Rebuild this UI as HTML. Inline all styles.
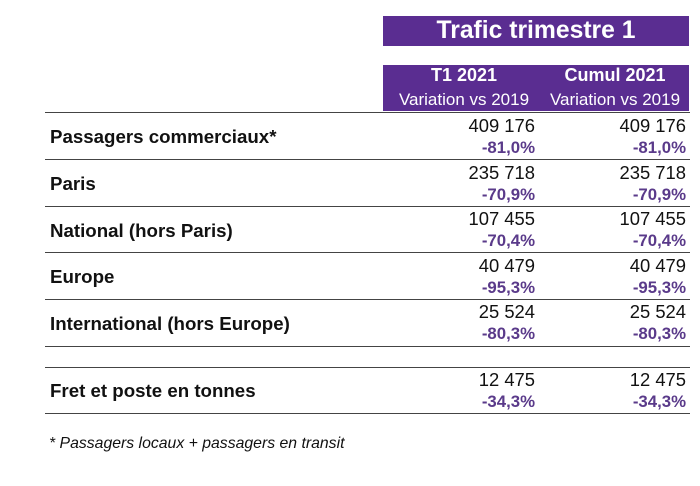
<!DOCTYPE html>
<html><head><style>
body{margin:0;width:700px;height:486px;background:#fff;font-family:"Liberation Sans",Arial,sans-serif;position:relative;overflow:hidden}
.a{position:absolute}
.bar{background:#5a2d91;color:#fff}
.line{position:absolute;left:45px;width:645px;height:1px;background:#444}
.lab{position:absolute;left:50px;font-weight:bold;font-size:18.7px;color:#111}
.n{position:absolute;font-size:18.4px;color:#111;text-align:right;width:150px}
.p{position:absolute;font-size:16.8px;font-weight:bold;color:#5a3a8a;text-align:right;width:150px}
</style></head><body>
<div class="a bar" style="left:383px;top:16px;width:306px;height:30px;font-weight:bold;font-size:24.7px;text-align:center;line-height:30px">Trafic trimestre 1</div>
<div class="a bar" style="left:383px;top:65px;width:306px;height:46px"></div>
<div class="a" style="left:383px;top:65px;width:162px;text-align:center;color:#fff;font-weight:bold;font-size:18px">T1 2021</div>
<div class="a" style="left:383px;top:90px;width:162px;text-align:center;color:#fff;font-size:17px">Variation vs 2019</div>
<div class="a" style="left:545px;top:65px;width:140px;text-align:center;color:#fff;font-weight:bold;font-size:18px">Cumul 2021</div>
<div class="a" style="left:545px;top:90px;width:140px;text-align:center;color:#fff;font-size:17px">Variation vs 2019</div>

<div class="line" style="top:112px"></div>
<div class="line" style="top:159px"></div>
<div class="line" style="top:206px"></div>
<div class="line" style="top:252px"></div>
<div class="line" style="top:299px"></div>
<div class="line" style="top:346px"></div>
<div class="line" style="top:367px"></div>
<div class="line" style="top:413px"></div>

<div class="lab" style="top:126px">Passagers commerciaux*</div>
<div class="n" style="left:385px;top:115px">409 176</div><div class="n" style="left:536px;top:115px">409 176</div>
<div class="p" style="left:385px;top:138px">-81,0%</div><div class="p" style="left:536px;top:138px">-81,0%</div>

<div class="lab" style="top:173px">Paris</div>
<div class="n" style="left:385px;top:162px">235 718</div><div class="n" style="left:536px;top:162px">235 718</div>
<div class="p" style="left:385px;top:185px">-70,9%</div><div class="p" style="left:536px;top:185px">-70,9%</div>

<div class="lab" style="top:220px">National (hors Paris)</div>
<div class="n" style="left:385px;top:208px">107 455</div><div class="n" style="left:536px;top:208px">107 455</div>
<div class="p" style="left:385px;top:231px">-70,4%</div><div class="p" style="left:536px;top:231px">-70,4%</div>

<div class="lab" style="top:266px">Europe</div>
<div class="n" style="left:385px;top:255px">40 479</div><div class="n" style="left:536px;top:255px">40 479</div>
<div class="p" style="left:385px;top:278px">-95,3%</div><div class="p" style="left:536px;top:278px">-95,3%</div>

<div class="lab" style="top:313px">International (hors Europe)</div>
<div class="n" style="left:385px;top:301px">25 524</div><div class="n" style="left:536px;top:301px">25 524</div>
<div class="p" style="left:385px;top:324px">-80,3%</div><div class="p" style="left:536px;top:324px">-80,3%</div>

<div class="lab" style="top:380px">Fret et poste en tonnes</div>
<div class="n" style="left:385px;top:369px">12 475</div><div class="n" style="left:536px;top:369px">12 475</div>
<div class="p" style="left:385px;top:392px">-34,3%</div><div class="p" style="left:536px;top:392px">-34,3%</div>

<div class="a" style="left:49px;top:435px;font-size:15.8px;font-style:italic;color:#111">* Passagers locaux + passagers en transit</div>
</body></html>
